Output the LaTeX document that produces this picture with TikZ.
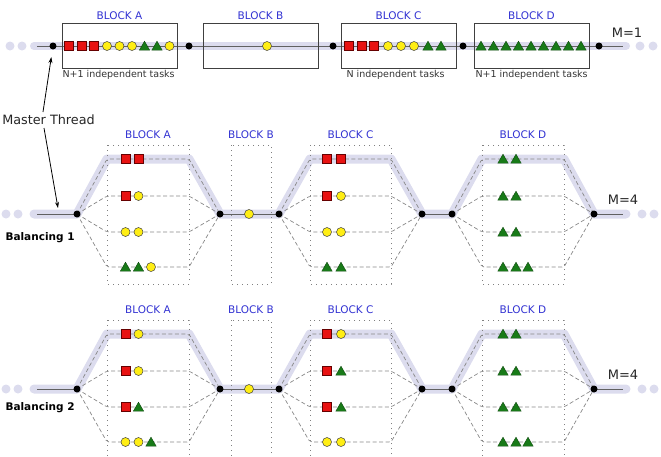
\documentclass[tikz,border=0pt]{standalone}
\usepackage{fontspec}
\setmainfont{DejaVu Sans}
\usetikzlibrary{shapes.geometric,arrows.meta}
\definecolor{bandc}{RGB}{220,220,238}
\definecolor{blockblue}{RGB}{50,50,210}
\definecolor{sqred}{RGB}{232,18,18}
\definecolor{ciyel}{RGB}{255,238,20}
\definecolor{trgreen}{RGB}{24,122,24}
\definecolor{dashg}{RGB}{135,135,135}
\def\tasksOne{sq/125.5/159, sq/138.5/159, sq/125.5/196, ci/138.5/196, ci/125.5/232, ci/138.5/232, tr/125.5/267, tr/138.5/267, ci/151/267, ci/249/214, sq/327/159, sq/341/159, sq/327/196, ci/341/196, ci/327/232, ci/341/232, tr/327/267, tr/341/267, tr/503/159, tr/516/159, tr/503/196, tr/516/196, tr/503/232, tr/516/232, tr/503/267, tr/516/267, tr/528/267}
\def\tasksTwo{sq/125.5/159, ci/138.5/159, sq/125.5/196, ci/138.5/196, sq/125.5/232, tr/138.5/232, ci/125.5/267, ci/138.5/267, tr/151/267, ci/249/214, sq/327/159, ci/341/159, sq/327/196, tr/341/196, sq/327/232, tr/341/232, ci/327/267, ci/341/267, tr/503/159, tr/516/159, tr/503/196, tr/516/196, tr/503/232, tr/516/232, tr/503/267, tr/516/267, tr/528/267}
\begin{document}
\begin{tikzpicture}[x=1pt,y=-1pt,
  band/.style={line width=9pt, draw=bandc, line join=round, line cap=round},
  thinl/.style={draw=black!62, line width=0.9pt},
  dline/.style={draw=dashg, line width=0.7pt, dash pattern=on 4pt off 2.5pt, rounded corners=2pt},
  dbox/.style={draw=black!50, line width=0.8pt, dash pattern=on 0.8pt off 4.2pt},
  sbox/.style={draw=black!75, line width=0.8pt},
  bnode/.style={circle, fill=black, inner sep=0pt, minimum size=7pt},
  sq/.style={rectangle, fill=sqred, draw=red!40!black, line width=0.5pt, inner sep=0pt, minimum size=8.8pt},
  ci/.style={circle, fill=ciyel, draw=black!75, line width=0.5pt, inner sep=0pt, minimum size=9pt},
  tr/.style={regular polygon, regular polygon sides=3, fill=trgreen, draw=trgreen!60!black, line width=0.4pt, inner sep=0pt, minimum size=12pt, yshift=-1.2pt},
  blab/.style={text=blockblue, font=\fontsize{10.5}{12}\selectfont},
  small/.style={text=black!80, font=\fontsize{9.5}{11}\selectfont},
  mlab/.style={text=black!85, font=\fontsize{13}{15}\selectfont},
  arr/.style={draw=black, line width=0.8pt, -{Stealth[length=6pt,width=4pt]}}
]
\useasboundingbox (0,0) rectangle (661,456);

% ---------- top row (M=1)
\coordinate (tL) at (34,46); \coordinate (tR) at (626,46);
\coordinate (tL2) at (37,46); \coordinate (tR2) at (623,46);
\draw[band, line width=8pt] (tL) -- (tR);
\foreach \xx in {10,22,640,653} \fill[bandc] (\xx,46) circle (4.5pt);
\draw[thinl] (tL2) -- (tR2);
\draw[sbox] (62,23) rectangle (177,68);
\draw[sbox] (203,23) rectangle (318,68);
\draw[sbox] (341,23) rectangle (456,68);
\draw[sbox] (474,23) rectangle (589,68);
\node[blab] (tlA) at (119.5,16) {BLOCK A};
\node[blab] (tlB) at (260.5,16) {BLOCK B};
\node[blab] (tlC) at (398.5,16) {BLOCK C};
\node[blab] (tlD) at (531.5,16) {BLOCK D};
\node[small, anchor=west] (tsA) at (59,75) {N+1 independent tasks};
\node[small, anchor=west] (tsC) at (343,75) {N independent tasks};
\node[small, anchor=west] (tsD) at (472,75) {N+1 independent tasks};
\node[mlab] (tm) at (627,33) {M=1};
\foreach \tp/\x [count=\i] in {sq/69, sq/81.5, sq/94, ci/107, ci/119.5, ci/132, tr/144.5, tr/157, ci/169.5, ci/267, sq/349, sq/361.5, sq/374, ci/388, ci/401, ci/414, tr/428, tr/441, tr/481, tr/493.5, tr/506, tr/518.5, tr/531, tr/543.5, tr/556, tr/568.5, tr/581}
  \node[\tp] (tt\i) at (\x,46) {};
\foreach \x [count=\i] in {53,189,333,463,599}
  \node[bnode] (tn\i) at (\x,46) {};

% ---------- balancing sections
\foreach \off/\p in {0/a, 175/b} {
\begin{scope}[yshift=-\off pt]
  \coordinate (\p L) at (34,214);
  \coordinate (\p R) at (626,214);
  \coordinate (\p L2) at (37,214);
  \coordinate (\p R2) at (623,214);
  \foreach \xx [count=\i] in {77,220,279,422,452,594}
    \coordinate (\p c\i) at (\xx,214);
  \foreach \X/\xl/\xr in {A/107/189, C/310/391, D/482/564}
    \foreach \r/\ry in {1/159,2/196,3/232,4/267} {
      \coordinate (\p\X\r l) at (\xl,\ry);
      \coordinate (\p\X\r r) at (\xr,\ry);
    }
  \draw[band] (\p L) -- (\p c1) -- (\p A1l) -- (\p A1r) -- (\p c2) -- (\p c3) -- (\p C1l) -- (\p C1r) -- (\p c4) -- (\p c5) -- (\p D1l) -- (\p D1r) -- (\p c6) -- (\p R);
  \foreach \xx in {6,18,642,654} \fill[bandc] (\xx,214) circle (4.5pt);
  \draw[dbox] (107,145) rectangle (189,284);
  \draw[dbox] (231,145) rectangle (271,284);
  \draw[dbox] (310,145) rectangle (391,284);
  \draw[dbox] (482,145) rectangle (564,284);
  \draw[thinl] (\p L2) -- (\p c1);
  \draw[thinl] (\p c2) -- (\p c3);
  \draw[thinl] (\p c4) -- (\p c5);
  \draw[thinl] (\p c6) -- (\p R2);
  \foreach \X/\s/\e in {A/1/2, C/3/4, D/5/6}
    \foreach \r in {1,...,4}
      \draw[dline] (\p c\s) -- (\p\X\r l) -- (\p\X\r r) -- (\p c\e);
  \node[blab] (\p lA) at (148,135) {BLOCK A};
  \node[blab] (\p lB) at (251,135) {BLOCK B};
  \node[blab] (\p lC) at (350.5,135) {BLOCK C};
  \node[blab] (\p lD) at (523,135) {BLOCK D};
  \node[mlab] (\p m) at (623,200) {M=4};
  \foreach \i in {1,...,6}
    \node[bnode] (\p n\i) at (\p c\i) {};
\end{scope}
}
\foreach \tp/\x/\y [count=\i] in \tasksOne
  \node[\tp] (at\i) at (\x,\y) {};
\begin{scope}[yshift=-175pt]
\foreach \tp/\x/\y [count=\i] in \tasksTwo
  \node[\tp] (bt\i) at (\x,\y) {};
\end{scope}

\node[anchor=west, font=\fontsize{10.5}{12}\selectfont\bfseries] (bal1) at (2,238) {Balancing 1};
\node[anchor=west, font=\fontsize{10.5}{12}\selectfont\bfseries] (bal2) at (2,408) {Balancing 2};

% ---------- master thread
\node[anchor=east, font=\fontsize{12.8}{15}\selectfont, text=black!85, inner sep=1pt] (mt) at (96,120) {Master Thread};
\coordinate (m1) at (43,112);
\coordinate (m2) at (44,128);
\coordinate (mtgt) at (58,208);
\draw[arr, shorten >=7.5pt] (m1) -- (tn1);
\draw[arr] (m2) -- (mtgt);
\end{tikzpicture}
\end{document}
